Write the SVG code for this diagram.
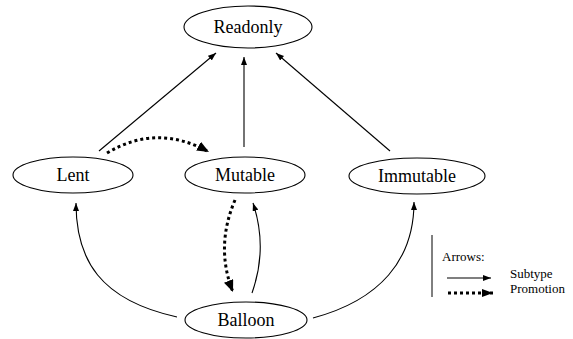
<svg xmlns="http://www.w3.org/2000/svg" width="573" height="339" viewBox="0 0 573 339">
<style>
.node ellipse{fill:#fff;stroke:#000;stroke-width:1.1}
.node text{font-family:"Liberation Serif","Times New Roman",serif;font-size:18px;text-anchor:middle;fill:#000}
.e{fill:none;stroke:#000;stroke-width:1.1}
.p{fill:none;stroke:#000;stroke-width:3;stroke-dasharray:3 3}
.leg{font-family:"Liberation Serif","Times New Roman",serif;font-size:13px;fill:#000}
</style>
<defs>
<marker id="sa" viewBox="0 0 8 6" refX="8" refY="3" markerWidth="8" markerHeight="6" markerUnits="userSpaceOnUse" orient="auto"><path d="M0,0 L8,3 L0,6 z" fill="#000"/></marker>
<marker id="pa" viewBox="0 0 12 10" refX="12" refY="5" markerWidth="12" markerHeight="10" markerUnits="userSpaceOnUse" orient="auto"><path d="M0,0 L12,5 L0,10 z" fill="#000"/></marker>
<marker id="pl" viewBox="0 0 11 8" refX="11" refY="4" markerWidth="11" markerHeight="8" markerUnits="userSpaceOnUse" orient="auto"><path d="M0,0 L11,4 L0,8 z" fill="#000"/></marker>
</defs>
<g id="connectors">
<path class="e" d="M99,151 L216,53" marker-end="url(#sa)"/>
<path class="e" d="M244,147 L244,57" marker-end="url(#sa)"/>
<path class="e" d="M390,151 L276,53" marker-end="url(#sa)"/>
<path class="p" d="M107,153 Q157,123 209,152" marker-end="url(#pa)"/>
<path class="p" d="M235,200 Q215,247 233,292" marker-end="url(#pa)"/>
<path class="e" d="M252,293 Q268,248 253,203" marker-end="url(#sa)"/>
<path class="e" d="M177,317 C100,300 76,260 76,203" marker-end="url(#sa)"/>
<path class="e" d="M313,318 C380,300 414,260 414,202" marker-end="url(#sa)"/>
</g>
<g id="Readonly" class="node"><ellipse cx="248" cy="27" rx="64" ry="21"/><text x="248" y="33">Readonly</text></g>
<g id="Lent" class="node"><ellipse cx="73" cy="175" rx="60" ry="18"/><text x="73" y="181">Lent</text></g>
<g id="Mutable" class="node"><ellipse cx="245" cy="175" rx="60" ry="18"/><text x="245" y="181">Mutable</text></g>
<g id="Immutable" class="node"><ellipse cx="417" cy="176" rx="68" ry="18"/><text x="417" y="182">Immutable</text></g>
<g id="Balloon" class="node"><ellipse cx="246" cy="320" rx="61" ry="18"/><text x="246" y="326">Balloon</text></g>
<g id="legend">
<line x1="432" y1="235" x2="432" y2="297" stroke="#000" stroke-width="1"/>
<text class="leg" x="442" y="261">Arrows:</text>
<path class="e" d="M447,278 L491,278" marker-end="url(#sa)"/>
<path class="p" d="M448,293 L493,293" marker-end="url(#pl)"/>
<text class="leg" x="510" y="278">Subtype</text>
<text class="leg" x="510" y="293">Promotion</text>
</g>
</svg>
